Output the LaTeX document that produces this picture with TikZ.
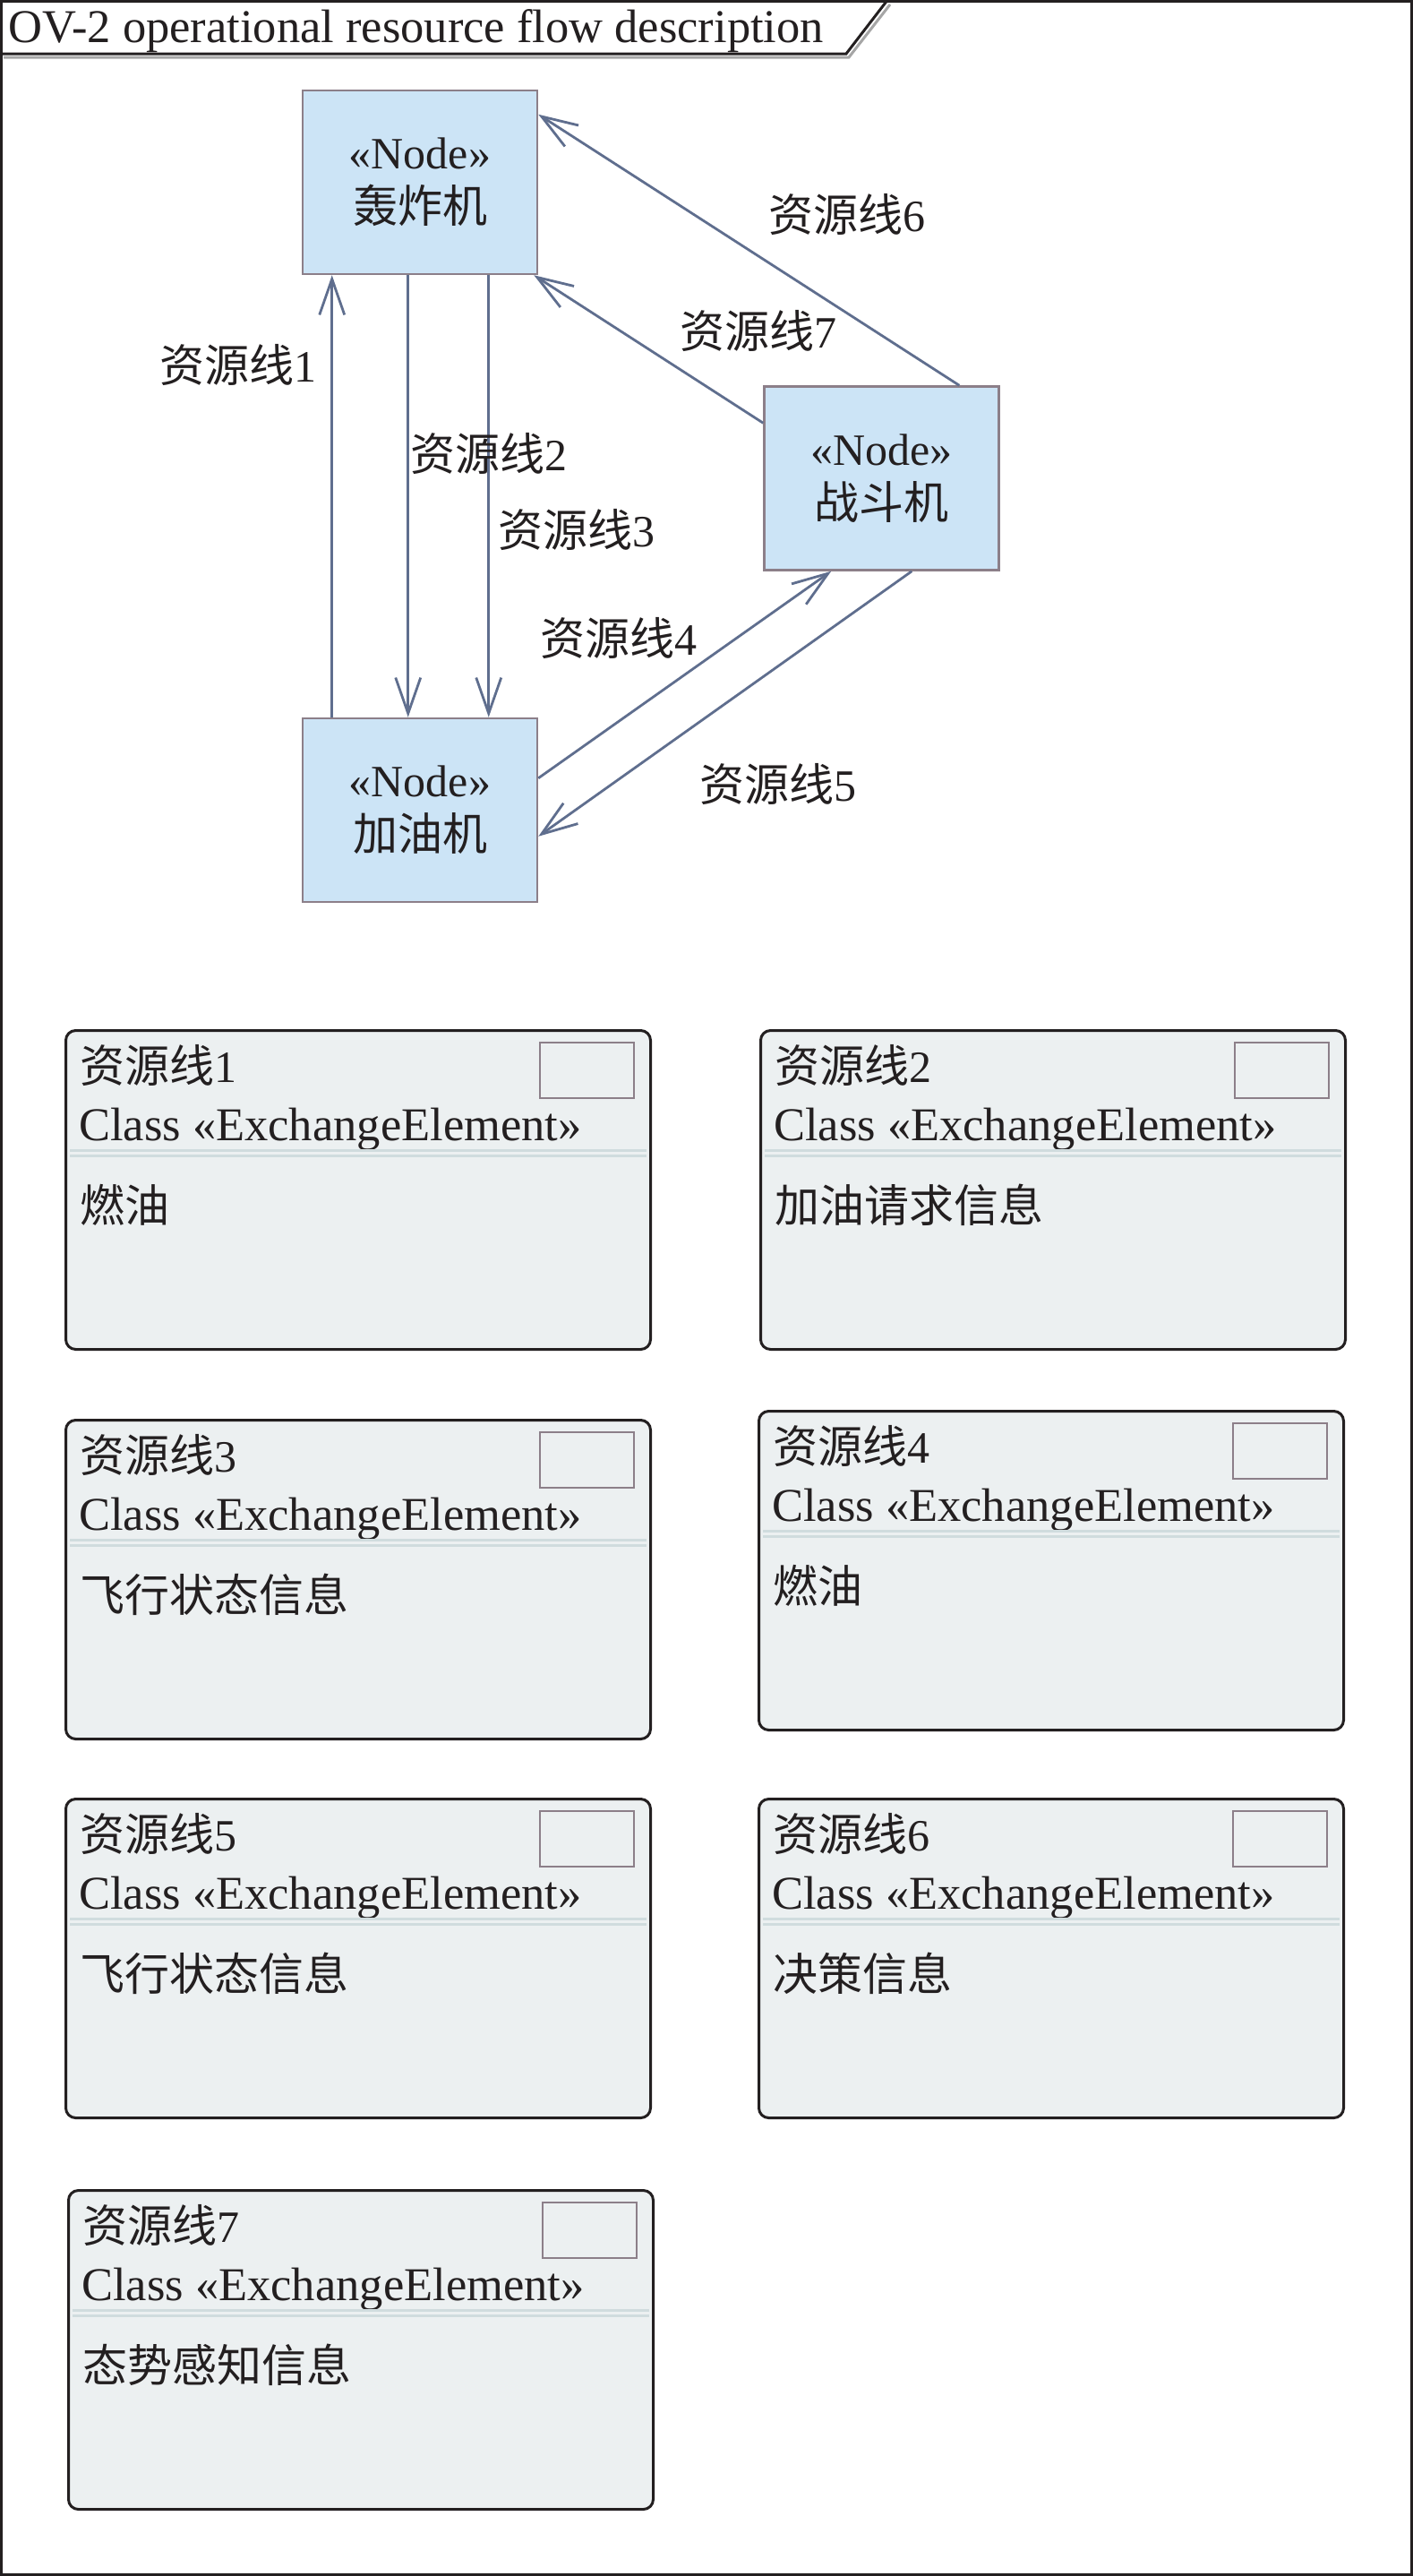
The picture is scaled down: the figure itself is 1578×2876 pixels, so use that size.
\documentclass[tikz,border=0pt]{standalone}
\usepackage{fontspec}
\setmainfont{Liberation Serif}
\newfontfamily\cjk{Noto Sans CJK SC}
\usetikzlibrary{arrows.meta,calc}
\definecolor{nodefill}{HTML}{CCE4F6}
\definecolor{nodeline}{HTML}{8C7F89}
\definecolor{conncol}{HTML}{5F6E8E}
\definecolor{eefill}{HTML}{ECF0F1}
\definecolor{sepcol}{HTML}{D0DCDE}
\definecolor{inkcol}{HTML}{231F20}
\tikzset{
  txt/.style={inner sep=0pt, text=inkcol, font=\fontsize{50}{60}\selectfont},
  opnode/.style={rectangle, draw=nodeline, fill=nodefill, line width=2.5pt,
    minimum width=262pt, minimum height=205pt, align=center, inner sep=0pt,
    text=inkcol, font=\fontsize{50}{60}\selectfont},
  conn/.style={draw=conncol, line width=2.8pt,
    -{Straight Barb[length=40pt,width=28pt,line width=2.8pt]}},
  eeframe/.style={rectangle, draw=inkcol, line width=3pt, rounded corners=11pt,
    fill=eefill, minimum width=653pt, minimum height=356pt, inner sep=0pt},
  iconbox/.style={draw=nodeline, line width=2.5pt},
  sepline/.style={draw=sepcol, line width=3pt}
}
\newcommand\eebox[5]{%
  \node[eeframe, anchor=north west] (#1) at (#2,#3) {};
  \draw[iconbox] ($(#1.north east)+(-20,15)$) rectangle ($(#1.north east)+(-125,77)$);
  \node[txt, anchor=west] (#1-t) at ($(#1.north west)+(17,40)$) {{\cjk 资源线}#4};
  \node[txt, anchor=west, font=\fontsize{52.5}{60}\selectfont] (#1-c) at ($(#1.north west)+(16,112)$) {Class «ExchangeElement»};
  \draw[sepline] ($(#1.north west)+(6,135)$) -- ($(#1.north east)+(-6,135)$);
  \draw[sepline] ($(#1.north west)+(6,141)$) -- ($(#1.north east)+(-6,141)$);
  \node[txt, anchor=west] (#1-b) at ($(#1.north west)+(17,196)$) {\cjk #5};
}
\begin{document}
\begin{tikzpicture}[x=1pt,y=-1pt]
\useasboundingbox (0,0) rectangle (1578,2876);
\fill[white] (0,0) rectangle (1578,2876);
% frame and title tab
\draw[inkcol, line width=3pt] (1.5,1.5) rectangle (1576.5,2874.5);
\draw[gray!70, line width=3pt] (4,64) -- (948,64) -- (994,5);
\draw[inkcol, line width=3pt] (1.5,60) -- (945,60) -- (990,1.5);
\node[txt, anchor=base west, font=\fontsize{52.5}{60}\selectfont] (title) at (9,47) {OV-2 operational resource flow description};

% operational nodes
\node[opnode] (hz) at (469,203.5) {«Node»\\{\cjk 轰炸机}};
\node[opnode] (zd) at (984.5,534) {«Node»\\{\cjk 战斗机}};
\node[opnode] (jy) at (469,904.5) {«Node»\\{\cjk 加油机}};

% connectors
\draw[conn] ($(jy.north west)+(34,0)$) -- ($(hz.south west)+(34,0)$);
\draw[conn] ($(hz.south west)+(119,0)$) -- ($(jy.north west)+(119,0)$);
\draw[conn] ($(hz.south west)+(209,0)$) -- ($(jy.north west)+(209,0)$);
\draw[conn] ($(jy.north east)+(0,68)$) -- ($(zd.south west)+(76,0)$);
\draw[conn] ($(zd.south west)+(166,0)$) -- ($(jy.north east)+(0,133)$);
\draw[conn] ($(zd.north west)+(219,0)$) -- ($(hz.north east)+(0,28)$);
\draw[conn] ($(zd.north west)+(0,42)$) -- ($(hz.south east)+(-5,0)$);

% connector labels
\node[txt] (l1) at (266,407) {{\cjk 资源线}1};
\node[txt] (l2) at (546,506) {{\cjk 资源线}2};
\node[txt] (l3) at (644,591) {{\cjk 资源线}3};
\node[txt] (l4) at (691,712) {{\cjk 资源线}4};
\node[txt] (l5) at (869,875) {{\cjk 资源线}5};
\node[txt] (l6) at (946,239) {{\cjk 资源线}6};
\node[txt] (l7) at (847,369) {{\cjk 资源线}7};

% exchange element boxes
\eebox{b1}{72}{1149}{1}{燃油}
\eebox{b2}{848}{1149}{2}{加油请求信息}
\eebox{b3}{72}{1584}{3}{飞行状态信息}
\eebox{b4}{846}{1574}{4}{燃油}
\eebox{b5}{72}{2007}{5}{飞行状态信息}
\eebox{b6}{846}{2007}{6}{决策信息}
\eebox{b7}{75}{2444}{7}{态势感知信息}
\end{tikzpicture}
\end{document}
